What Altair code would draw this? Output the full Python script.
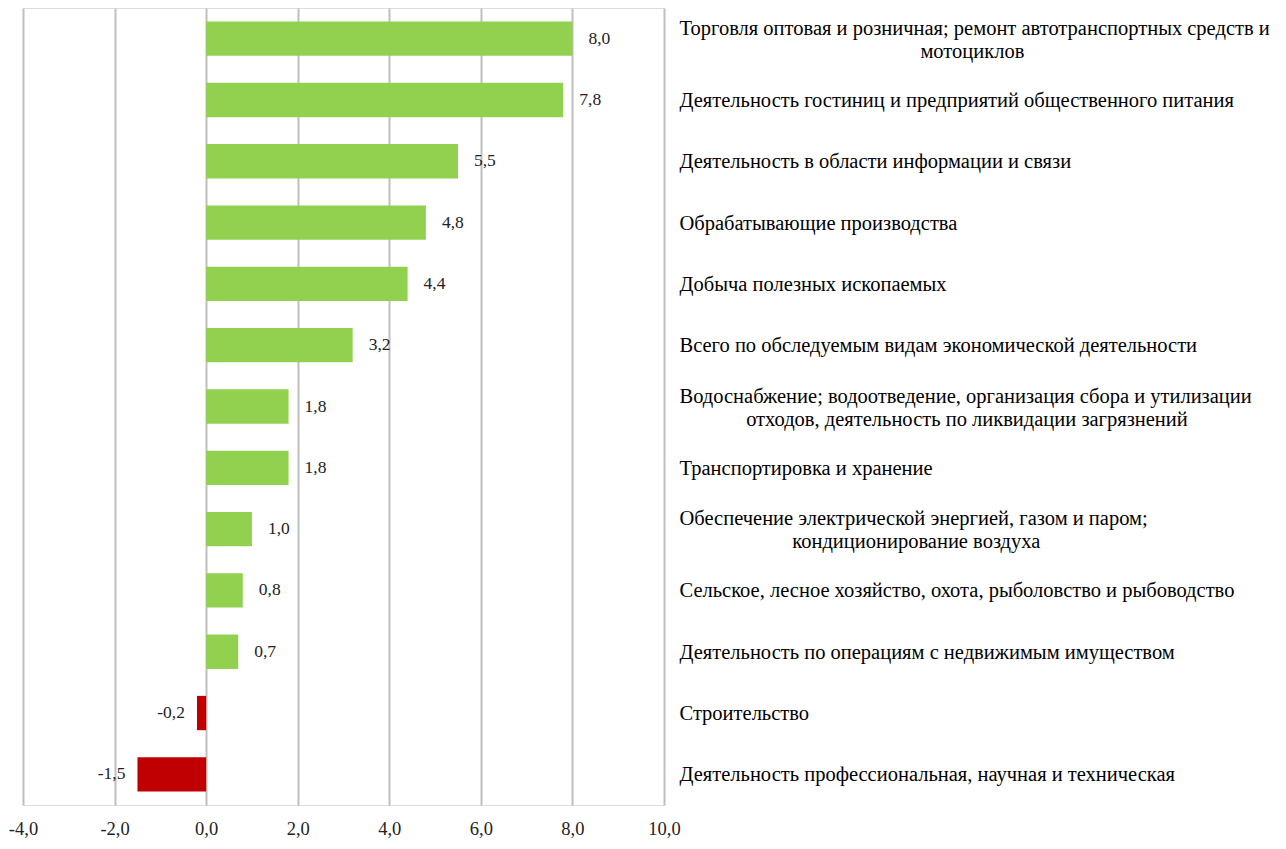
import altair as alt
import pandas as pd

ZW = "\u200b"
NB = "\u00a0"

categories = [
    "Торговля оптовая и розничная; ремонт автотранспортных средств и|" + ZW + NB * 47 + "мотоциклов",
    "Деятельность гостиниц и предприятий общественного питания",
    "Деятельность в области информации и связи",
    "Обрабатывающие производства",
    "Добыча полезных ископаемых",
    "Всего по обследуемым видам экономической деятельности",
    "Водоснабжение; водоотведение, организация сбора и утилизации|" + ZW + NB * 13 + "отходов, деятельность по ликвидации загрязнений",
    "Транспортировка и хранение",
    "Обеспечение электрической энергией, газом и паром;|" + ZW + NB * 22 + "кондиционирование воздуха",
    "Сельское, лесное хозяйство, охота, рыболовство и рыбоводство",
    "Деятельность по операциям с недвижимым имуществом",
    "Строительство",
    "Деятельность профессиональная, научная и техническая",
]
values = [8.0, 7.8, 5.5, 4.8, 4.4, 3.2, 1.8, 1.8, 1.0, 0.8, 0.7, -0.2, -1.5]
x_ticks = [-4, -2, 0, 2, 4, 6, 8, 10]

df = pd.DataFrame({"category": categories, "value": values})
df["label"] = df["value"].map(lambda v: f"{v:.1f}".replace(".", ","))
df["sign"] = df["value"].map(lambda v: "neg" if v < 0 else "pos")

FONT = "Liberation Serif"

y_enc = alt.Y(
    "category:N",
    sort=categories,
    scale=alt.Scale(paddingInner=0.44, paddingOuter=0.22),
    axis=alt.Axis(
        orient="right",
        title=None,
        ticks=False,
        domain=False,
        grid=False,
        labelAlign="left",
        labelBaseline="middle",
        labelPadding=15,
        labelFont=FONT,
        labelFontSize=20.5,
        labelColor="#000000",
        labelLineHeight=23,
        labelLimit=0,
        labelOffset={"condition": {"test": "indexof(datum.label, '|') >= 0", "value": -10}, "value": 1},
        labelExpr="split(datum.label, '|')",
    ),
)

x_enc = alt.X(
    "value:Q",
    scale=alt.Scale(domain=[-4, 10], nice=False, zero=False),
    axis=alt.Axis(
        values=x_ticks,
        title=None,
        ticks=False,
        domain=False,
        grid=True,
        gridColor="#bfbfbf",
        gridWidth=2,
        labelFlush=False,
        labelFont=FONT,
        labelFontSize=18.5,
        labelColor="#222222",
        labelPadding=14,
        labelExpr="replace(replace(format(datum.value, '.1f'), '.', ','), '\u2212', '-')",
    ),
)

bars = alt.Chart(df).mark_bar().encode(
    x=x_enc,
    x2=alt.datum(0),
    y=y_enc,
    color=alt.Color(
        "sign:N",
        scale=alt.Scale(domain=["pos", "neg"], range=["#92d050", "#c00000"]),
        legend=None,
    ),
)

pos_text = alt.Chart(df).transform_filter("datum.value >= 0").mark_text(
    align="left", baseline="middle", dx=16, font=FONT, fontSize=17.5, color="#222222"
).encode(x="value:Q", y=alt.Y("category:N", sort=categories), text="label:N")

neg_text = alt.Chart(df).transform_filter("datum.value < 0").mark_text(
    align="right", baseline="middle", dx=-12, font=FONT, fontSize=17.5, color="#222222"
).encode(x="value:Q", y=alt.Y("category:N", sort=categories), text="label:N")

chart = (
    alt.layer(bars, pos_text, neg_text)
    .properties(width=641, height=797, padding={"left": 0, "top": 0, "right": 0, "bottom": 0})
    .configure_view(stroke="#555555", strokeWidth=2)
    .configure(background="white")
)

chart.save("out.html", embed_options={"renderer": "svg", "actions": False})
